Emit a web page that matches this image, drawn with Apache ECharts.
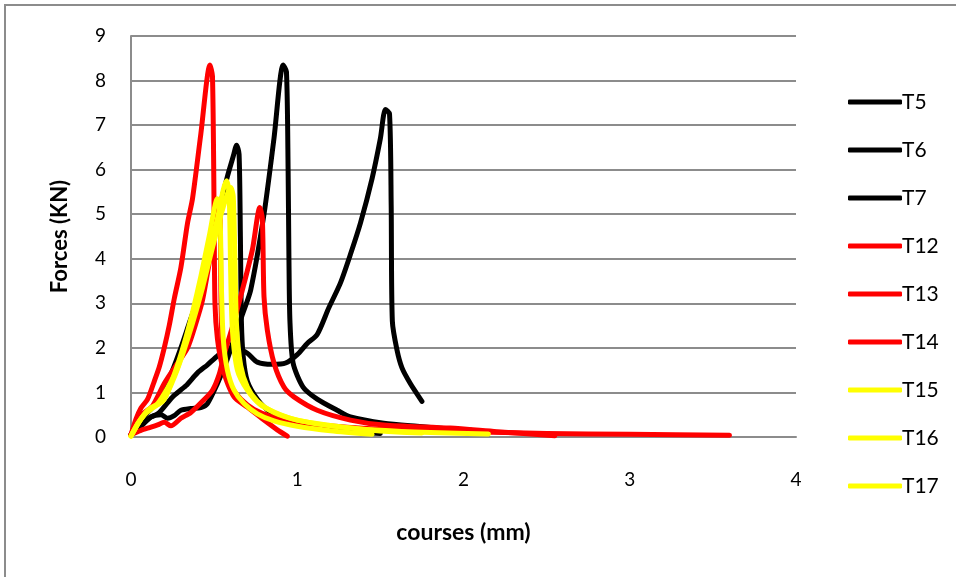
<!DOCTYPE html>
<html>
<head>
<meta charset="utf-8">
<title>Forces / courses</title>
<script src="https://cdn.jsdelivr.net/npm/echarts@6/dist/echarts.min.js"></script>
<style>
  html, body { margin: 0; padding: 0; background: #fff; }
  #chart { width: 956px; height: 577px; }
</style>
</head>
<body>
<div id="chart"></div>
<script>
// courses (mm) / forces (KN)
var T5 = [[0,0.05],[0.05,0.2],[0.12,0.45],[0.18,0.5],[0.22,0.42],[0.26,0.48],[0.3,0.6],[0.36,0.64],[0.42,0.66],[0.46,0.75],[0.52,1.2],[0.57,1.65],[0.62,2.2],[0.67,2.75],[0.72,3.3],[0.8,5.0],[0.86,6.7],[0.915,8.35],[0.935,8.2],[0.945,6],[0.95,4],[0.956,2.6],[0.975,1.66],[1.035,1.12],[1.12,0.85],[1.24,0.6],[1.32,0.45],[1.52,0.31],[1.72,0.24],[1.92,0.18],[2.05,0.15]];
var T6 = [[0,0.05],[0.05,0.3],[0.1,0.55],[0.15,0.75],[0.2,1.1],[0.25,1.5],[0.3,2.0],[0.35,2.55],[0.41,3.2],[0.47,4.1],[0.53,5.1],[0.58,5.85],[0.615,6.3],[0.635,6.55],[0.65,6.35],[0.658,4.5],[0.664,2.6],[0.675,1.8],[0.7,1.25],[0.76,0.85],[0.84,0.55],[0.94,0.38],[1.05,0.27],[1.2,0.18],[1.35,0.12],[1.5,0.08]];
var T7 = [[0,0.05],[0.05,0.22],[0.11,0.42],[0.17,0.55],[0.25,0.9],[0.33,1.15],[0.4,1.44],[0.46,1.62],[0.52,1.82],[0.58,1.95],[0.65,1.95],[0.7,1.88],[0.76,1.68],[0.85,1.63],[0.93,1.66],[1.0,1.85],[1.06,2.1],[1.12,2.3],[1.19,2.9],[1.26,3.46],[1.32,4.1],[1.38,4.8],[1.45,5.8],[1.5,6.7],[1.53,7.35],[1.555,7.25],[1.565,5.2],[1.572,2.6],[1.6,1.95],[1.63,1.55],[1.68,1.2],[1.75,0.8]];
var T12 = [[0,0.05],[0.03,0.4],[0.06,0.65],[0.1,0.85],[0.14,1.25],[0.17,1.57],[0.2,2.0],[0.23,2.5],[0.26,3.1],[0.3,3.8],[0.34,4.8],[0.37,5.35],[0.42,6.8],[0.475,8.35],[0.49,8.1],[0.5,5],[0.505,3],[0.52,2.2],[0.55,1.6],[0.6,1.15],[0.66,0.85],[0.74,0.62],[0.85,0.45],[1.0,0.32],[1.3,0.22],[1.6,0.16],[2.0,0.12],[2.5,0.08],[3.0,0.06],[3.6,0.04]];
var T13 = [[0,0.05],[0.04,0.4],[0.08,0.55],[0.13,0.7],[0.2,1.2],[0.27,1.6],[0.34,2.0],[0.39,2.55],[0.43,3.07],[0.47,3.9],[0.5,4.6],[0.52,5.3],[0.535,5.1],[0.54,3.5],[0.545,2.4],[0.56,1.45],[0.62,0.9],[0.7,0.67],[0.8,0.38],[0.88,0.16],[0.94,0.02]];
var T14 = [[0,0.05],[0.06,0.15],[0.12,0.22],[0.16,0.27],[0.2,0.33],[0.24,0.25],[0.3,0.42],[0.36,0.55],[0.43,0.8],[0.49,1.05],[0.53,1.4],[0.56,1.85],[0.61,2.47],[0.67,3.3],[0.73,4.2],[0.775,5.15],[0.79,4.9],[0.8,3.15],[0.82,2.4],[0.86,1.66],[0.92,1.12],[0.98,0.9],[1.12,0.6],[1.32,0.38],[1.52,0.27],[1.92,0.2],[2.2,0.12],[2.55,0.03]];
var T15 = [[0,0.02],[0.04,0.3],[0.08,0.5],[0.13,0.65],[0.2,0.85],[0.26,1.4],[0.32,2.1],[0.37,2.8],[0.42,3.6],[0.47,4.5],[0.52,5.35],[0.535,5.05],[0.545,3.2],[0.555,2.2],[0.58,1.5],[0.62,1.05],[0.68,0.75],[0.76,0.52],[0.86,0.36],[1.0,0.24],[1.2,0.14],[1.45,0.06]];
var T16 = [[0,0.02],[0.05,0.35],[0.1,0.6],[0.16,0.75],[0.22,1.1],[0.28,1.55],[0.34,2.3],[0.4,3.1],[0.46,4.0],[0.52,4.9],[0.555,5.55],[0.575,5.75],[0.59,5.5],[0.6,3.6],[0.61,2.4],[0.64,1.5],[0.7,1.05],[0.78,0.72],[0.9,0.5],[1.0,0.38],[1.2,0.25],[1.5,0.15],[1.8,0.1],[2.15,0.07]];
var T17 = [[0,0.02],[0.06,0.4],[0.12,0.65],[0.19,0.8],[0.25,1.25],[0.31,1.85],[0.37,2.55],[0.43,3.35],[0.49,4.25],[0.55,5.1],[0.6,5.6],[0.615,5.4],[0.625,4],[0.635,2.5],[0.66,1.6],[0.7,1.12],[0.76,0.8],[0.86,0.55],[1.0,0.38],[1.2,0.26],[1.4,0.17],[1.6,0.11],[1.75,0.09]];

var seriesNames = ['T5', 'T6', 'T7', 'T12', 'T13', 'T14', 'T15', 'T16', 'T17'];
var seriesData = [T5, T6, T7, T12, T13, T14, T15, T16, T17];
var seriesColors = ['#000000', '#000000', '#000000', '#ff0000', '#ff0000', '#ff0000', '#ffff00', '#ffff00', '#ffff00'];
var xTicks = [0, 1, 2, 3, 4];
var yTicks = [0, 1, 2, 3, 4, 5, 6, 7, 8, 9];

var font = 'Lato, "Open Sans", sans-serif';
var chart = echarts.init(document.getElementById('chart'));

chart.setOption({
  animation: false,
  backgroundColor: '#ffffff',
  graphic: [{
    type: 'rect',
    shape: { x: 5, y: 5, width: 1000, height: 1000 },
    style: { fill: 'none', stroke: '#8c8c8c', lineWidth: 2 },
    silent: true
  }],
  grid: { left: 131, top: 36, width: 665, height: 401 },
  legend: {
    orient: 'vertical',
    left: 843,
    top: 85,
    itemWidth: 54,
    itemHeight: 5,
    itemGap: 24,
    icon: 'roundRect',
    data: seriesNames,
    textStyle: { fontFamily: font, fontSize: 21, color: '#000', padding: [0, 0, 0, -5], lineHeight: 24 }
  },
  xAxis: {
    type: 'value',
    min: xTicks[0],
    max: xTicks[xTicks.length - 1],
    interval: 1,
    name: 'courses (mm)',
    nameLocation: 'middle',
    nameGap: 84,
    nameTextStyle: { fontFamily: font, fontSize: 23, fontWeight: 'bold', color: '#000' },
    axisLine: { lineStyle: { color: '#8c8c8c', width: 2 } },
    axisTick: { show: false },
    splitLine: { show: false },
    axisLabel: { margin: 33, fontFamily: font, fontSize: 19, color: '#000' }
  },
  yAxis: {
    type: 'value',
    min: yTicks[0],
    max: yTicks[yTicks.length - 1],
    interval: 1,
    name: 'Forces (KN)',
    nameLocation: 'middle',
    nameGap: 60,
    nameTextStyle: { fontFamily: font, fontSize: 22, fontWeight: 'bold', color: '#000' },
    axisLine: { show: true, lineStyle: { color: '#8c8c8c', width: 2 } },
    axisTick: { show: false },
    splitLine: { lineStyle: { color: '#8c8c8c', width: 2 } },
    axisLabel: { margin: 25, fontFamily: font, fontSize: 19, color: '#000' }
  },
  series: seriesNames.map(function (name, i) {
    return {
      name: name,
      type: 'line',
      data: seriesData[i],
      showSymbol: false,
      smooth: 0.25,
      color: seriesColors[i],
      lineStyle: { width: 5, color: seriesColors[i], cap: 'round', join: 'round' }
    };
  })
});
</script>
</body>
</html>
